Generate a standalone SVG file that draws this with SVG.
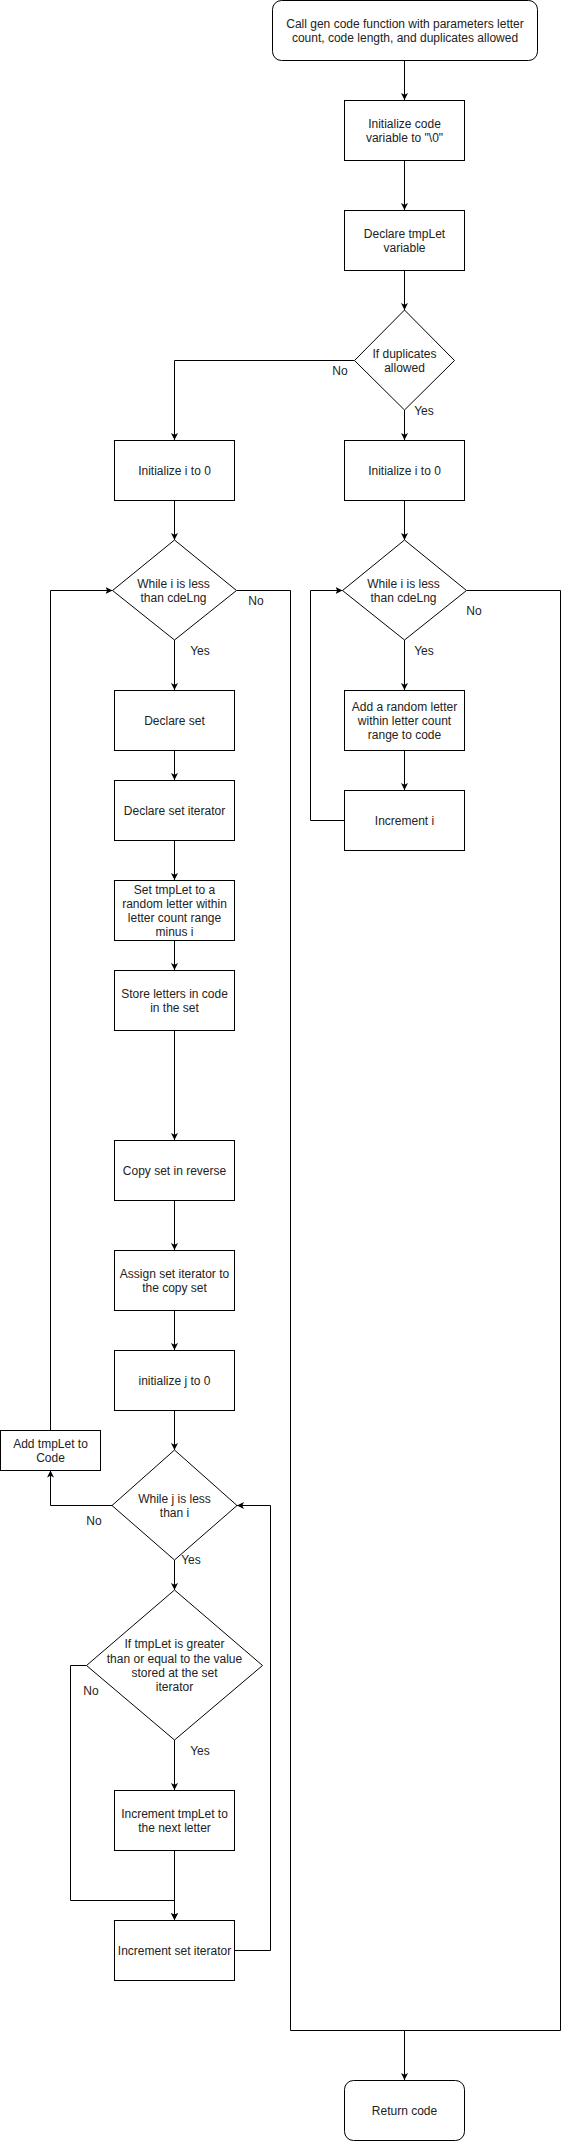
<svg xmlns="http://www.w3.org/2000/svg" width="569" height="2141" viewBox="0 0 569 2141">
<style>
.n{fill:#fff;stroke:#000;stroke-width:1}
.t{font-family:"Liberation Sans",Arial,sans-serif;font-size:12px;fill:#222;text-anchor:middle}
.c{fill:none;stroke:#000;stroke-width:1}
</style>
<defs>
<marker id="a" markerUnits="userSpaceOnUse" markerWidth="8" markerHeight="8" refX="7" refY="3.5" orient="auto">
<path d="M0,0 L7,3.5 L0,7 L1.75,3.5 z" fill="#000"/>
</marker>
</defs>
<rect width="569" height="2141" fill="#fff"/>
<g id="connectors">
<path class="c" d="M404.5,60.5 V100" marker-end="url(#a)"/>
<path class="c" d="M404.5,160.5 V210" marker-end="url(#a)"/>
<path class="c" d="M404.5,270.5 V310" marker-end="url(#a)"/>
<path class="c" d="M354.5,360.5 H174.5 V440" marker-end="url(#a)"/>
<path class="c" d="M404.5,410 V440" marker-end="url(#a)"/>
<path class="c" d="M174.5,500.5 V540" marker-end="url(#a)"/>
<path class="c" d="M404.5,500.5 V540" marker-end="url(#a)"/>
<path class="c" d="M174.5,640 V690" marker-end="url(#a)"/>
<path class="c" d="M236.5,590.5 H290.5 V2030.5 H404.5 V2080" marker-end="url(#a)"/>
<path class="c" d="M466.5,590.5 H560.5 V2030.5 H404.5"/>
<path class="c" d="M404.5,640 V690" marker-end="url(#a)"/>
<path class="c" d="M404.5,750.5 V790" marker-end="url(#a)"/>
<path class="c" d="M344.5,820.5 H310.5 V590.5 H342.5" marker-end="url(#a)"/>
<path class="c" d="M174.5,750.5 V780" marker-end="url(#a)"/>
<path class="c" d="M174.5,840.5 V880" marker-end="url(#a)"/>
<path class="c" d="M174.5,940.5 V970" marker-end="url(#a)"/>
<path class="c" d="M174.5,1030.5 V1140" marker-end="url(#a)"/>
<path class="c" d="M174.5,1200.5 V1250" marker-end="url(#a)"/>
<path class="c" d="M174.5,1310.5 V1350" marker-end="url(#a)"/>
<path class="c" d="M174.5,1410.5 V1450" marker-end="url(#a)"/>
<path class="c" d="M112,1505.5 H50.5 V1470.5" marker-end="url(#a)"/>
<path class="c" d="M50.5,1430.5 V590.5 H112.5" marker-end="url(#a)"/>
<path class="c" d="M174.5,1560 V1590" marker-end="url(#a)"/>
<path class="c" d="M174.5,1740 V1790" marker-end="url(#a)"/>
<path class="c" d="M86.5,1665.5 H70.5 V1900.5 H174.5 V1920" marker-end="url(#a)"/>
<path class="c" d="M174.5,1850.5 V1920" marker-end="url(#a)"/>
<path class="c" d="M234.5,1950.5 H270.5 V1505.5 H237" marker-end="url(#a)"/>
<text class="t" x="340" y="375">No</text>
<text class="t" x="424" y="415">Yes</text>
<text class="t" x="256" y="605">No</text>
<text class="t" x="200" y="655">Yes</text>
<text class="t" x="474" y="615">No</text>
<text class="t" x="424" y="655">Yes</text>
<text class="t" x="94" y="1525">No</text>
<text class="t" x="191" y="1564">Yes</text>
<text class="t" x="91" y="1695">No</text>
<text class="t" x="200" y="1755">Yes</text>
</g>
<g id="start">
<rect class="n" x="272.5" y="0.5" width="265" height="60" rx="9"/>
<text class="t" x="405" y="28">Call gen code function with parameters letter</text>
<text class="t" x="405" y="42">count, code length, and duplicates allowed</text>
</g>
<g id="initCode">
<rect class="n" x="344.5" y="100.5" width="120" height="60"/>
<text class="t" x="404.5" y="128">Initialize code</text>
<text class="t" x="404.5" y="142">variable to "\0"</text>
</g>
<g id="declTmp">
<rect class="n" x="344.5" y="210.5" width="120" height="60"/>
<text class="t" x="404.5" y="238">Declare tmpLet</text>
<text class="t" x="404.5" y="252">variable</text>
</g>
<g id="ifDup">
<polygon class="n" points="404.5,310 454.5,360.5 404.5,410 354.5,360.5"/>
<text class="t" x="404.5" y="357.5">If duplicates</text>
<text class="t" x="404.5" y="371.5">allowed</text>
</g>
<g id="initILeft">
<rect class="n" x="114.5" y="440.5" width="120" height="60"/>
<text class="t" x="174.5" y="475">Initialize i to 0</text>
</g>
<g id="initIRight">
<rect class="n" x="344.5" y="440.5" width="120" height="60"/>
<text class="t" x="404.5" y="475">Initialize i to 0</text>
</g>
<g id="whileLeft">
<polygon class="n" points="174.5,540 236.5,590.5 174.5,640 112.5,590.5"/>
<text class="t" x="173.5" y="588">While i is less</text>
<text class="t" x="173.5" y="602">than cdeLng</text>
</g>
<g id="whileRight">
<polygon class="n" points="404.5,540 466.5,590.5 404.5,640 342.5,590.5"/>
<text class="t" x="403.5" y="588">While i is less</text>
<text class="t" x="403.5" y="602">than cdeLng</text>
</g>
<g id="declSet">
<rect class="n" x="114.5" y="690.5" width="120" height="60"/>
<text class="t" x="174.5" y="725">Declare set</text>
</g>
<g id="declIter">
<rect class="n" x="114.5" y="780.5" width="120" height="60"/>
<text class="t" x="174.5" y="815">Declare set iterator</text>
</g>
<g id="addRandom">
<rect class="n" x="344.5" y="690.5" width="120" height="60"/>
<text class="t" x="404.5" y="711">Add a random letter</text>
<text class="t" x="404.5" y="725">within letter count</text>
<text class="t" x="404.5" y="739">range to code</text>
</g>
<g id="incI">
<rect class="n" x="344.5" y="790.5" width="120" height="60"/>
<text class="t" x="404.5" y="825">Increment i</text>
</g>
<g id="setTmp">
<rect class="n" x="114.5" y="880.5" width="120" height="60"/>
<text class="t" x="174.5" y="894">Set tmpLet to a</text>
<text class="t" x="174.5" y="908">random letter within</text>
<text class="t" x="174.5" y="922">letter count range</text>
<text class="t" x="174.5" y="936">minus i</text>
</g>
<g id="store">
<rect class="n" x="114.5" y="970.5" width="120" height="60"/>
<text class="t" x="174.5" y="998">Store letters in code</text>
<text class="t" x="174.5" y="1012">in the set</text>
</g>
<g id="copySet">
<rect class="n" x="114.5" y="1140.5" width="120" height="60"/>
<text class="t" x="174.5" y="1175">Copy set in reverse</text>
</g>
<g id="assign">
<rect class="n" x="114.5" y="1250.5" width="120" height="60"/>
<text class="t" x="174.5" y="1278">Assign set iterator to</text>
<text class="t" x="174.5" y="1292">the copy set</text>
</g>
<g id="initJ">
<rect class="n" x="114.5" y="1350.5" width="120" height="60"/>
<text class="t" x="174.5" y="1385">initialize j to 0</text>
</g>
<g id="addTmp">
<rect class="n" x="0.5" y="1430.5" width="100" height="40"/>
<text class="t" x="50.5" y="1448">Add tmpLet to</text>
<text class="t" x="50.5" y="1462">Code</text>
</g>
<g id="whileJ">
<polygon class="n" points="174.5,1450 237,1505.5 174.5,1560 112,1505.5"/>
<text class="t" x="174.5" y="1503">While j is less</text>
<text class="t" x="174.5" y="1517">than i</text>
</g>
<g id="ifTmp">
<polygon class="n" points="174.5,1590 262.5,1665.5 174.5,1740 86.5,1665.5"/>
<text class="t" x="174.5" y="1648">If tmpLet is greater</text>
<text class="t" x="174.5" y="1662.5">than or equal to the value</text>
<text class="t" x="174.5" y="1677">stored at the set</text>
<text class="t" x="174.5" y="1691">iterator</text>
</g>
<g id="incTmp">
<rect class="n" x="114.5" y="1790.5" width="120" height="60"/>
<text class="t" x="174.5" y="1818">Increment tmpLet to</text>
<text class="t" x="174.5" y="1832">the next letter</text>
</g>
<g id="incIter">
<rect class="n" x="114.5" y="1920.5" width="120" height="60"/>
<text class="t" x="174.5" y="1955">Increment set iterator</text>
</g>
<g id="returnCode">
<rect class="n" x="344.5" y="2080.5" width="120" height="60" rx="9"/>
<text class="t" x="404.5" y="2115">Return code</text>
</g>
</svg>
